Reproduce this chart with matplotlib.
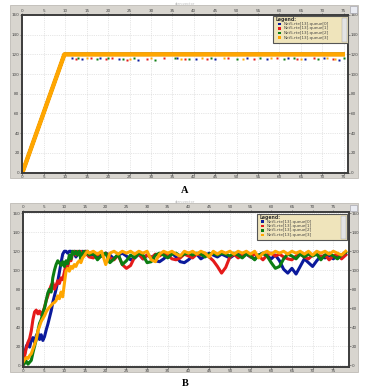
import numpy as np
import matplotlib.pyplot as plt
from matplotlib.patches import Rectangle

W, H = 368, 390

colors = ['#0b1a9c', '#e51a1a', '#0c7d12', '#ffa600']
labels = ['Net5.rte[13].queue[0]', 'Net5.rte[13].queue[1]',
          'Net5.rte[13].queue[2]', 'Net5.rte[13].queue[3]']

# ---- panel A: linear fill to the cap, then flat ----
t_a = [0, 9.8, 75.3]
a_vals = [[0, 120, 120], [0, 120, 120], [0, 120, 120], [0, 120, 120]]

# small drops below the cap shown as dots
a_dip_t = [
    [11.5, 14, 18, 22.5, 27, 36, 40.5, 45, 52.5, 57, 62, 66, 70.5, 74],
    [12.5, 16, 19.5, 21, 24.5, 29, 33, 38, 43, 48, 54, 59.5, 64, 68, 72.5],
    [13, 17.5, 20, 23.5, 26, 31, 35.5, 39, 44, 50, 55.5, 61, 63.5, 69, 75],
    [15, 25, 30, 37, 42, 47, 51.5, 58, 65, 71, 73],
]
a_dip_v = [
    [116, 115, 116, 115, 114, 116, 115, 115, 116, 115, 116, 115, 116, 114],
    [115, 116, 115, 116, 114, 115, 116, 115, 115, 116, 115, 116, 115, 116, 115],
    [116, 115, 116, 115, 116, 114, 116, 115, 116, 115, 116, 115, 116, 115, 116],
    [116, 115, 116, 115, 116, 116, 115, 116, 115, 116, 115],
]

# ---- panel B: noisy fill ----
t_b = np.concatenate([np.arange(0, 16, 0.4), np.arange(16, 79, 1)])

b_blue = [2, 12, 20, 23, 19, 26, 29, 24, 31, 34, 27, 32, 26, 30, 37, 43, 50, 57, 66, 73,
          80, 88, 98, 108, 117, 120, 120, 118, 120, 120, 117, 120, 114, 118, 120, 116, 120, 118, 120, 117,
          118, 116, 113, 115, 118, 116, 112, 116, 118, 115, 111, 113, 117, 112, 116, 114, 110, 109, 112, 116,
          118, 114, 109, 108, 111, 115, 117, 112, 115, 118, 116, 114, 117, 115, 113, 116, 118, 115, 117, 114,
          112, 116, 118, 115, 112, 116, 110, 101, 97, 102, 96, 104, 112, 108, 104, 110, 115, 113, 116, 112,
          116, 114, 117]
b_red = [0, 10, 18, 24, 28, 36, 48, 56, 58, 54, 57, 53, 56, 61, 68, 73, 79, 84, 87, 80,
         84, 89, 86, 92, 90, 98, 106, 103, 112, 110, 118, 120, 116, 120, 117, 120, 115, 118, 120, 116,
         114, 113, 117, 115, 118, 113, 111, 116, 106, 102, 105, 114, 117, 112, 116, 113, 117, 115, 118, 116,
         112, 111, 113, 117, 115, 113, 117, 116, 118, 114, 110, 104, 97, 103, 114, 117, 113, 116, 118, 114,
         117, 115, 111, 116, 118, 115, 117, 114, 112, 111, 115, 117, 114, 112, 116, 117, 114, 116, 111, 115,
         117, 112, 116]
b_green = [0, 2, 4, 1, 3, 5, 13, 20, 27, 36, 44, 48, 55, 60, 68, 76, 80, 77, 92, 100,
           106, 110, 108, 105, 109, 104, 110, 107, 116, 112, 120, 117, 120, 116, 120, 111, 118, 120, 117, 120,
           116, 118, 111, 116, 118, 108, 112, 117, 106, 110, 116, 113, 118, 116, 108, 109, 116, 118, 116, 113,
           117, 118, 115, 117, 118, 116, 118, 117, 114, 117, 118, 116, 118, 117, 115, 118, 116, 113, 117, 115,
           111, 116, 118, 115, 108, 102, 104, 112, 117, 115, 112, 117, 114, 117, 115, 117, 111, 116, 118, 115,
           112, 116, 119]
b_orange = [3, 6, 8, 7, 10, 12, 17, 22, 27, 36, 41, 46, 49, 52, 56, 59, 61, 63, 65, 66,
            68, 73, 70, 77, 72, 86, 99, 102, 99, 104, 102, 106, 104, 108, 110, 108, 113, 115, 118, 120,
            118, 120, 117, 120, 106, 118, 120, 117, 120, 118, 120, 117, 120, 118, 120, 111, 109, 117, 120, 118,
            120, 117, 115, 120, 118, 120, 117, 120, 118, 114, 120, 117, 120, 118, 120, 117, 120, 118, 120, 117,
            120, 113, 118, 120, 117, 120, 118, 120, 117, 120, 118, 120, 117, 120, 116, 120, 118, 120, 117, 120,
            118, 116, 120]
b_series = [b_blue, b_red, b_green, b_orange]

x_ticks = np.arange(0, 80, 5)
y_ticks = np.arange(0, 161, 20)

fig = plt.figure(figsize=(W / 100, H / 100), dpi=100)
fig.patch.set_facecolor('white')


def box(x0, y0, x1, y1):
    # pixel box (top-left origin) -> figure fraction [l, b, w, h]
    return [x0 / W, 1 - y1 / H, (x1 - x0) / W, (y1 - y0) / H]


def rect(x0, y0, x1, y1, **kw):
    l, b, w, h = box(x0, y0, x1, y1)
    fig.add_artist(Rectangle((l, b), w, h, transform=fig.transFigure, **kw))


def ftext(x, y, s, **kw):
    fig.text(x / W, 1 - y / H, s, **kw)


def frame(y0, y1):
    rect(10, y0, 358, y1, facecolor='#d8d5cf', edgecolor='#b5b2ac', lw=0.5, zorder=0)
    rect(350, y0 + 1.5, 357, y0 + 7.5, facecolor='#e9ebf2', edgecolor='#9a9aa6', lw=0.4, zorder=1)
    ftext(185, y0 - 0.6, 'qlen:vector', fontsize=2.5, color='#b8b8b8', ha='center', va='center')


def style_axes(ax, xlim, ylim):
    ax.set_facecolor('white')
    ax.set_xlim(*xlim)
    ax.set_ylim(*ylim)
    ax.set_xticks(x_ticks)
    ax.set_yticks(y_ticks)
    ax.grid(True, color='#cfcfcf', linestyle=':', linewidth=0.5)
    ax.tick_params(top=True, labeltop=True, right=True, labelright=True,
                   labelsize=3, length=1.3, width=0.4, pad=0.5, colors='#444')
    for sp in ax.spines.values():
        sp.set_color('#3c3c3c')
        sp.set_linewidth(1.4)


def legend(x0, y0, x1, y1, title_y, rows_y, mark_x, text_x):
    rect(x0, y0, x1, y1, facecolor='#efe4bb', edgecolor='#555555', lw=0.8, zorder=5)
    rect(x1 - 6.5, y0 + 1.5, x1 - 1.5, y1 - 1.5, facecolor='#e3e3e3', edgecolor='#a0a0a0', lw=0.3, zorder=6)
    ftext(x0 + 3, title_y, 'Legend:', fontsize=3.3, fontweight='bold', color='#333', va='center', zorder=7)
    for c, lab, ry in zip(colors, labels, rows_y):
        rect(mark_x - 1.3, ry - 1.3, mark_x + 1.3, ry + 1.3, facecolor=c, edgecolor='none', zorder=7)
        ftext(text_x, ry, lab, fontsize=3, color='#444', va='center', zorder=7)


# ---------------- A ----------------
frame(5, 178)
axA = fig.add_axes(box(22, 15, 348, 173))
style_axes(axA, (-0.1, 76.0), (-0.5, 160))
for vals, c in zip(a_vals, colors):
    axA.plot(t_a, vals, color=c, lw=3.2 if c == colors[3] else 2.4, solid_capstyle='butt')
for dt, dv, c in zip(a_dip_t, a_dip_v, colors):
    axA.plot(dt, dv, ls='none', marker='s', ms=1.8, mec='none', color=c)
legend(273, 16, 348, 43, 19.5, [24, 28.5, 33, 37.5], 279.5, 283.5)
ftext(185, 190, 'A', fontsize=7.5, fontweight='bold', family='Liberation Serif', ha='center', va='center')

# ---------------- B ----------------
frame(203, 372)
axB = fig.add_axes(box(23, 212, 349, 367))
style_axes(axB, (0, 78.8), (-2, 161.4))
for vals, c in zip(b_series, colors):
    axB.plot(t_b, vals, color=c, lw=2.2)
legend(257, 214, 347, 240, 217, [221.5, 226, 230.5, 235], 262.5, 266.5)
ftext(185, 384, 'B', fontsize=7.5, fontweight='bold', family='Liberation Serif', ha='center', va='center')

fig.savefig('out.png', dpi=100)
